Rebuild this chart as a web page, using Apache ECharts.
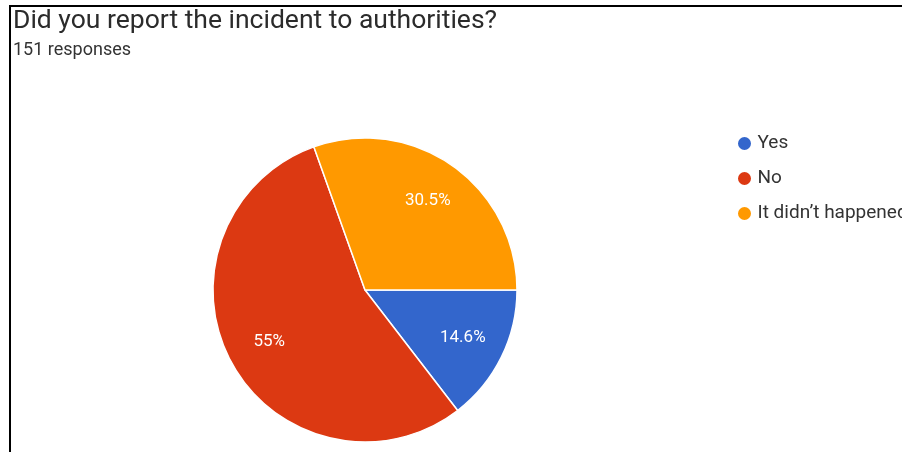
<!DOCTYPE html>
<html>
<head>
<meta charset="utf-8">
<script src="https://cdn.jsdelivr.net/npm/echarts@6/dist/echarts.min.js"></script>
<style>
  html, body { margin: 0; padding: 0; background: #fff; overflow: hidden; }
  #chart { position: absolute; left: 0; top: 0; width: 902px; height: 452px; }
  #frame { position: absolute; left: 9px; top: 5px; width: 900px; height: 460px;
           border-top: 2px solid #000; border-left: 2px solid #000; pointer-events: none; }
</style>
</head>
<body>
<div id="chart"></div>
<div id="frame"></div>
<script>
// Survey answers (151 responses)
const categories = ['Yes', 'No', 'It didn\u2019t happened'];
const counts = [22, 83, 46];
const colors = ['#3366CC', '#DC3912', '#FF9900'];

const total = counts.reduce((a, b) => a + b, 0);
const center = [365, 290];
const radius = 152;
const labelRatio = 0.69; // labels sit at ~69% of the radius

const chart = echarts.init(document.getElementById('chart'));

chart.setOption({
  animation: false,
  title: {
    text: 'Did you report the incident to authorities?',
    subtext: total + ' responses',
    left: 8,
    top: 3,
    itemGap: 6,
    textStyle: { fontFamily: 'Roboto', fontSize: 26.5, lineHeight: 26, fontWeight: 'normal', color: '#2b2b2b' },
    subtextStyle: { fontFamily: 'Roboto', fontSize: 18, lineHeight: 18, color: '#333' }
  },
  legend: {
    orient: 'vertical',
    left: 731,
    top: 129,
    icon: 'circle',
    itemWidth: 16,
    itemHeight: 15,
    itemGap: 16,
    textStyle: { fontFamily: 'Roboto', fontSize: 19, lineHeight: 19, color: '#333' },
    data: categories
  },
  series: [{
    type: 'pie',
    center: center,
    radius: radius,
    startAngle: 0,
    clockwise: true,
    color: colors,
    itemStyle: { borderColor: '#fff', borderWidth: 1.5 },
    label: {
      show: true,
      position: 'inside',
      fontFamily: 'Roboto',
      fontSize: 17,
      color: '#fff',
      // each share rounded on its own to one decimal
      formatter: p => (Math.round(p.value / total * 1000) / 10) + '%'
    },
    labelLine: { show: false },
    labelLayout: function (p) {
      const r = p.labelRect;
      const lx = r.x + r.width / 2;
      const ly = r.y + r.height / 2;
      const k = labelRatio / 0.5;
      return {
        x: center[0] + (lx - center[0]) * k,
        y: center[1] + (ly - center[1]) * k,
        align: 'center',
        verticalAlign: 'middle'
      };
    },
    emphasis: { disabled: true },
    data: categories.map((name, i) => ({ name: name, value: counts[i] }))
  }]
});
</script>
</body>
</html>
